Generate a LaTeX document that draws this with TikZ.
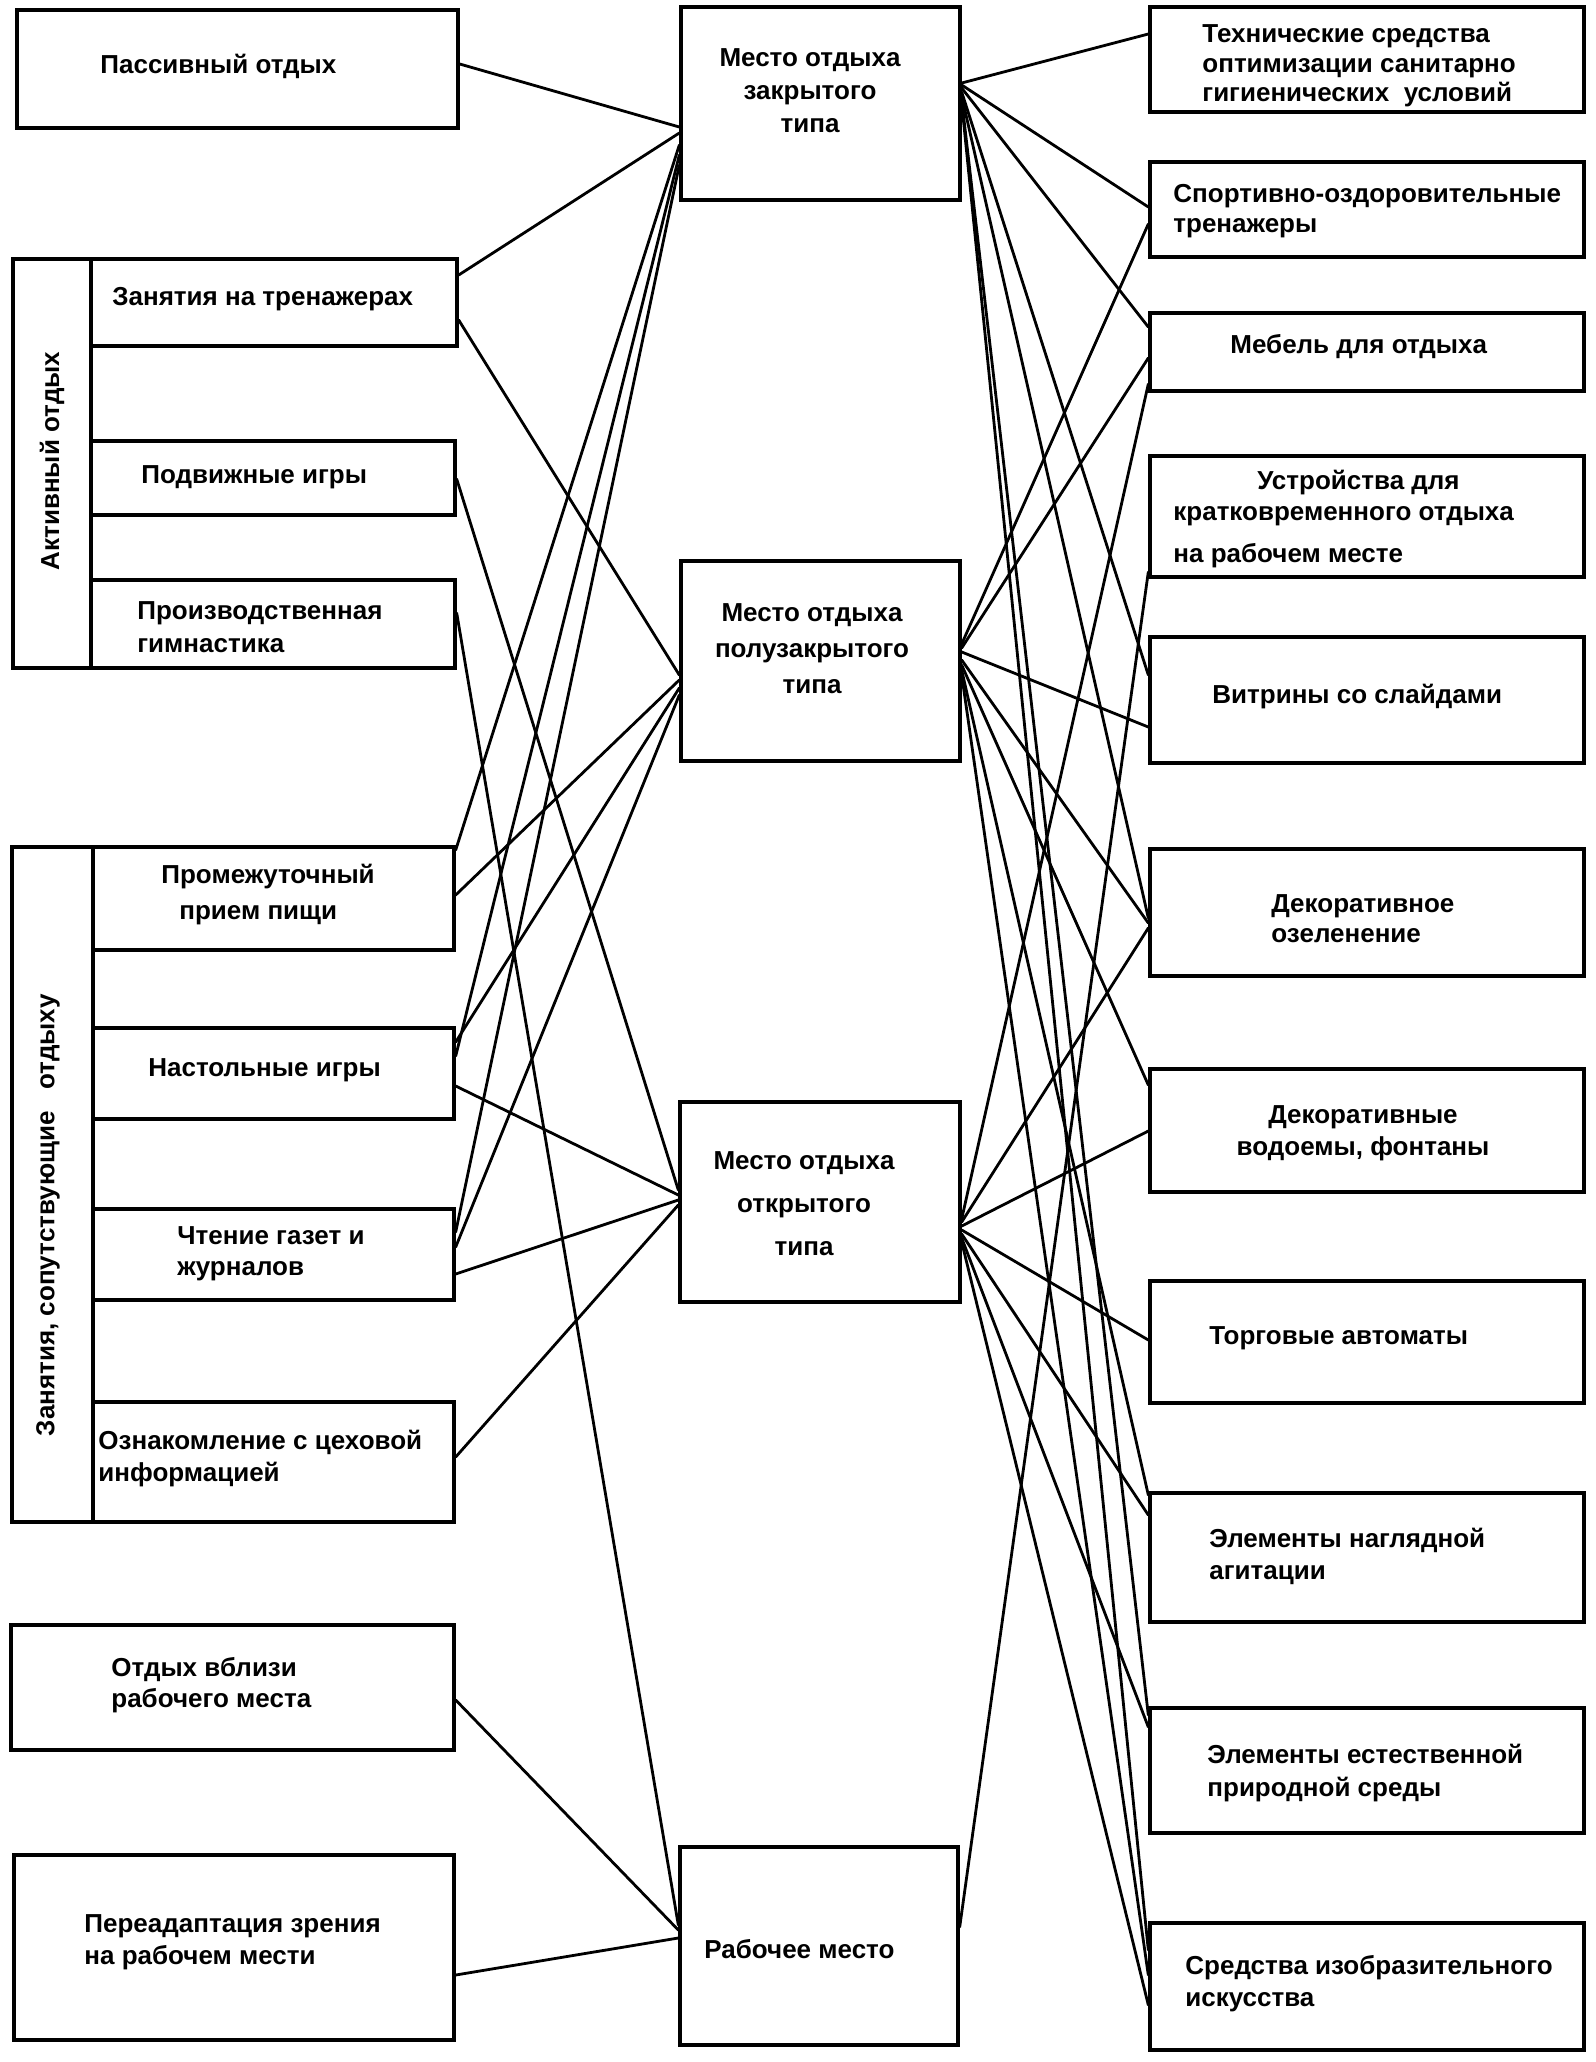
\documentclass[tikz,border=0pt]{standalone}
\usepackage{fontspec}
\setmainfont{Liberation Sans}
\usetikzlibrary{fit}
\tikzset{
  box/.style={draw, line width=1.7pt, inner sep=0pt},
  txt/.style={inner sep=0pt, font=\bfseries\fontsize{13}{16}\selectfont, align=left, anchor=west},
  ctxt/.style={inner sep=0pt, font=\bfseries\fontsize{13}{16}\selectfont, align=center, anchor=center},
  lsp/.style={font=\bfseries\fontsize{13}{#1}\selectfont},
  link/.style={line width=1.4pt, line cap=round},
}
\newcommand\lnk[4]{\draw[link] (#1.east |- 0,#2) -- (#3.west |- 0,#4);}
\begin{document}
\begin{tikzpicture}[x=0.5pt,y=-0.5pt]
\fill[white] (0,0) rectangle (1596,2062);
\useasboundingbox (0,0) rectangle (1596,2062);

% left column
\node[box, fit={(17,10) (458,128)}] (L1) {};
\node[box, fit={(13,259) (91,668)}] (GA) {};
\node[box, fit={(91,259) (457,346)}] (L2) {};
\node[box, fit={(91,441) (455,515)}] (L3) {};
\node[box, fit={(91,580) (455,668)}] (L4) {};
\node[box, fit={(12,847) (93,1522)}] (GS) {};
\node[box, fit={(93,847) (454,950)}] (L5) {};
\node[box, fit={(93,1028) (454,1119)}] (L6) {};
\node[box, fit={(93,1209) (454,1300)}] (L7) {};
\node[box, fit={(93,1402) (454,1522)}] (L8) {};
\node[box, fit={(11,1625) (454,1750)}] (L9) {};
\node[box, fit={(14,1855) (454,2040)}] (L10) {};

% middle column
\node[box, fit={(681,7) (960,200)}] (M1) {};
\node[box, fit={(681,561) (960,761)}] (M2) {};
\node[box, fit={(680,1102) (960,1302)}] (M3) {};
\node[box, fit={(680,1847) (958,2045)}] (M4) {};

% right column
\node[box, fit={(1150,7) (1584,112)}] (R1) {};
\node[box, fit={(1150,162) (1584,257)}] (R2) {};
\node[box, fit={(1150,313) (1584,391)}] (R3) {};
\node[box, fit={(1150,456) (1584,577)}] (R4) {};
\node[box, fit={(1150,637) (1584,763)}] (R5) {};
\node[box, fit={(1150,849) (1584,976)}] (R6) {};
\node[box, fit={(1150,1069) (1584,1192)}] (R7) {};
\node[box, fit={(1150,1281) (1584,1403)}] (R8) {};
\node[box, fit={(1150,1493) (1584,1622)}] (R9) {};
\node[box, fit={(1150,1708) (1584,1833)}] (R10) {};
\node[box, fit={(1150,1923) (1584,2050)}] (R11) {};

% texts
\node[txt] (t1) at (100,66) {Пассивный отдых};
\node[txt] (t2) at (112,299) {Занятия на тренажерах};
\node[txt] (t3) at (141,477) {Подвижные игры};
\node[txt, lsp=16.5] (t4) at (137,627) {Производственная\\гимнастика};
\node[txt, lsp=18] (t5) at (161,895) {Промежуточный\\\hspace*{9pt}прием пищи};
\node[txt] (t6) at (148,1070) {Настольные игры};
\node[txt, lsp=15.5] (t7) at (177,1254) {Чтение газет и\\журналов};
\node[txt] (t8) at (98,1459) {Ознакомление с цеховой\\информацией};
\node[txt, lsp=15.5] (t9) at (111,1685) {Отдых вблизи\\рабочего места};
\node[txt] (t10) at (84,1942) {Переадаптация зрения\\на рабочем мести};
\node[ctxt, rotate=90] (tA) at (52,461) {Активный отдых};
\node[ctxt, rotate=90] (tS) at (48,1215) {Занятия, сопутствующие\ \ \ отдыху};

\node[ctxt, lsp=16.5] (t11) at (810,91) {Место отдыха\\закрытого\\типа};
\node[ctxt, lsp=18] (t12) at (812,649) {Место отдыха\\полузакрытого\\типа};
\node[ctxt, lsp=21.5] (t13) at (804,1204) {Место отдыха\\открытого\\типа};
\node[txt] (t14) at (704,1949) {Рабочее место};

\node[txt, lsp=14.8] (t15) at (1202,66) {Технические средства\\оптимизации санитарно\\гигиенических\ \ условий};
\node[txt, lsp=15] (t16) at (1173,211) {Спортивно-оздоровительные\\тренажеры};
\node[txt] (t17) at (1230,347) {Мебель для отдыха};
\node[txt, lsp=15.5] (t18) at (1173,519) {\hspace*{42pt}Устройства для\\кратковременного отдыха\\[5.5pt]на рабочем месте};
\node[txt] (t19) at (1212,697) {Витрины со слайдами};
\node[txt, lsp=15] (t20) at (1271,919) {Декоративное\\озеленение};
\node[ctxt] (t21) at (1363,1133) {Декоративные\\водоемы, фонтаны};
\node[txt] (t22) at (1209,1338) {Торговые автоматы};
\node[txt] (t23) at (1209,1556) {Элементы наглядной\\агитации};
\node[txt, lsp=16.5] (t24) at (1207,1773) {Элементы естественной\\природной среды};
\node[txt] (t25) at (1185,1984) {Средства изобразительного\\искусства};

% left connectors
\lnk{L1}{64}{M1}{127}
\lnk{L2}{275}{M1}{133}
\lnk{L2}{320}{M2}{675}
\lnk{L3}{479}{M3}{1190}
\lnk{L4}{613}{M4}{1925}
\lnk{L5}{850}{M1}{145}
\lnk{L5}{895}{M2}{680}
\lnk{L6}{1042}{M2}{688}
\lnk{L6}{1056}{M1}{155}
\lnk{L6}{1086}{M3}{1195}
\lnk{L7}{1232}{M1}{165}
\lnk{L7}{1247}{M2}{695}
\lnk{L7}{1274}{M3}{1200}
\lnk{L8}{1457}{M3}{1205}
\lnk{L9}{1700}{M4}{1930}
\lnk{L10}{1975}{M4}{1938}

% right connectors
\lnk{M1}{83}{R1}{34}
\lnk{M1}{85}{R2}{207}
\lnk{M1}{88}{R3}{327}
\lnk{M1}{92}{R5}{675}
\lnk{M1}{96}{R6}{918}
\lnk{M1}{100}{R10}{1715}
\lnk{M1}{103}{R11}{1950}
\lnk{M2}{644}{R2}{224}
\lnk{M2}{648}{R3}{358}
\lnk{M2}{652}{R5}{727}
\lnk{M2}{660}{R6}{923}
\lnk{M2}{665}{R7}{1085}
\lnk{M2}{670}{R9}{1495}
\lnk{M2}{675}{R11}{1975}
\lnk{M3}{1219}{R3}{384}
\lnk{M3}{1222}{R6}{928}
\lnk{M3}{1226}{R7}{1131}
\lnk{M3}{1230}{R8}{1340}
\lnk{M3}{1234}{R9}{1515}
\lnk{M3}{1238}{R10}{1727}
\lnk{M3}{1242}{R11}{2005}
\lnk{M4}{1927}{R4}{572}
\end{tikzpicture}
\end{document}
